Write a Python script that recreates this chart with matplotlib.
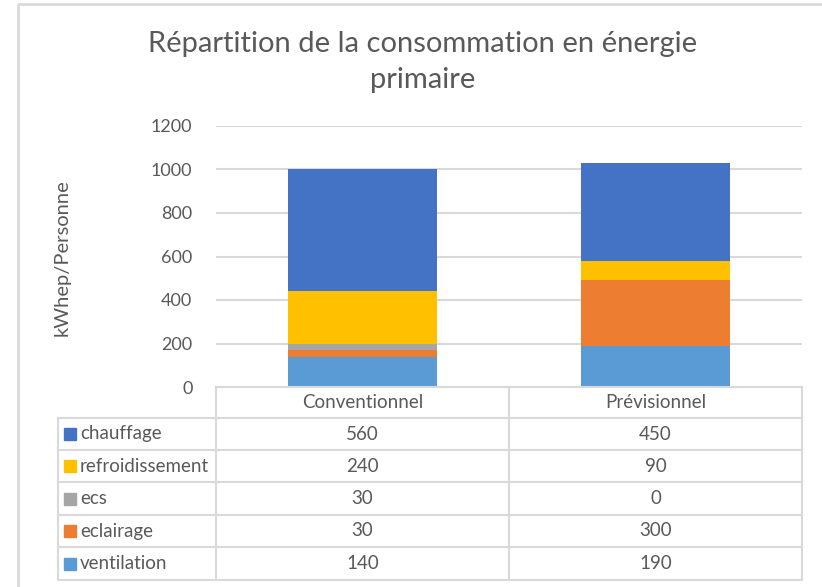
import matplotlib.pyplot as plt
import numpy as np
from matplotlib.lines import Line2D
from matplotlib.patches import Rectangle

categories = ["Conventionnel", "Prévisionnel"]
# stacking order, bottom to top
series = ["ventilation", "eclairage", "ecs", "refroidissement", "chauffage"]
values = {
    "ventilation": [140, 190],
    "eclairage": [30, 300],
    "ecs": [30, 0],
    "refroidissement": [240, 90],
    "chauffage": [560, 450],
}
colors = {
    "ventilation": "#5B9BD5",
    "eclairage": "#ED7D31",
    "ecs": "#A5A5A5",
    "refroidissement": "#FFC000",
    "chauffage": "#4472C4",
}
yticks = [0, 200, 400, 600, 800, 1000, 1200]

W, H = 822, 587
TXT = "#595959"
GRID = "#D9D9D9"
plt.rcParams["font.family"] = ["Lato", "DejaVu Sans"]

fig = plt.figure(figsize=(W / 100, H / 100), dpi=100)


def fx(px):
    return px / W


def fy(py):
    return 1 - py / H


# plot area
x0, x1, ytop, ybot = 216, 802, 126, 387
ax = fig.add_axes([fx(x0), fy(ybot), fx(x1) - fx(x0), (ybot - ytop) / H])
x = np.arange(len(categories))
bottom = np.zeros(len(categories))
for s in series:
    ax.bar(x, values[s], 0.51, bottom=bottom, color=colors[s], zorder=3)
    bottom += np.array(values[s])
ax.set_xlim(-0.5, len(categories) - 0.5)
ax.set_ylim(0, 1200)
ax.set_yticks(yticks)
ax.yaxis.grid(True, color=GRID, linewidth=1.5, zorder=0)
ax.tick_params(axis="y", length=0, pad=17, labelsize=13, labelcolor=TXT)
ax.tick_params(axis="x", length=0, labelbottom=False)
for sp in ax.spines.values():
    sp.set_visible(False)
fig.text(fx(62), fy(258), "kWhep/Personne", rotation=90, ha="center", va="center",
         fontsize=14.5, color=TXT)

fig.text(fx(423), fy(44), "Répartition de la consommation en énergie",
         ha="center", va="center", fontsize=21, color=TXT)
fig.text(fx(423), fy(80), "primaire", ha="center", va="center",
         fontsize=21, color=TXT)

# chart frame (left and top edges)
fig.add_artist(Line2D([fx(18), fx(18), fx(830)], [fy(600), fy(4), fy(4)],
                      color=GRID, linewidth=2))

# data table
lw = 1.5
tab_left, col1, col2, tab_right = 58, 216, 509, 802
row_y = [387, 418, 450, 482, 515, 547, 580]


def hline(xa, xb, y):
    fig.add_artist(Line2D([fx(xa), fx(xb)], [fy(y), fy(y)], color=GRID, linewidth=lw))


def vline(x, ya, yb):
    fig.add_artist(Line2D([fx(x), fx(x)], [fy(ya), fy(yb)], color=GRID, linewidth=lw))


hline(col1, tab_right, row_y[0])
for y in row_y[1:]:
    hline(tab_left, tab_right, y)
vline(tab_left, row_y[1], row_y[-1])
for xc in (col1, col2, tab_right):
    vline(xc, row_y[0], row_y[-1])

centers = [(col1 + col2) / 2, (col2 + tab_right) / 2]
for cx, cat in zip(centers, categories):
    fig.text(fx(cx), fy((row_y[0] + row_y[1]) / 2), cat, ha="center", va="center",
             fontsize=13.5, color=TXT)

for i, s in enumerate(series[::-1]):
    yc = (row_y[i + 1] + row_y[i + 2]) / 2
    fig.add_artist(Rectangle((fx(64), fy(yc + 6)), 12 / W, 12 / H,
                             color=colors[s], transform=fig.transFigure))
    fig.text(fx(80), fy(yc), s, ha="left", va="center", fontsize=13.5, color=TXT)
    for cx, v in zip(centers, values[s]):
        fig.text(fx(cx), fy(yc), str(v), ha="center", va="center",
                 fontsize=13.5, color=TXT)

fig.savefig("out.png", dpi=100, facecolor="white")
